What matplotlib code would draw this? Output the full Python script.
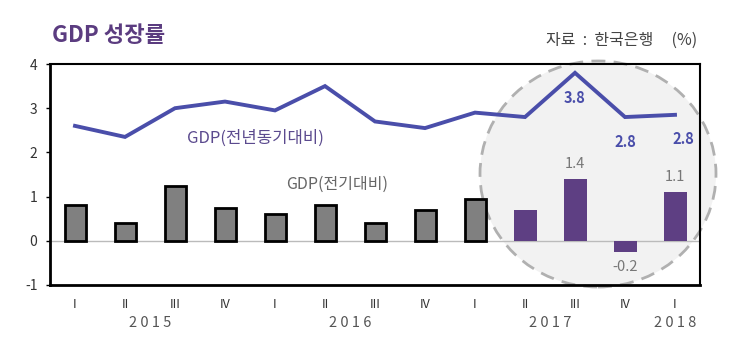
import matplotlib.pyplot as plt
from matplotlib.patches import Ellipse
from matplotlib import transforms

plt.rcParams['font.family'] = ['Noto Sans CJK KR', 'DejaVu Sans']
plt.rcParams['axes.unicode_minus'] = False

# data
quarters = ['I', 'II', 'III', 'IV', 'I', 'II', 'III', 'IV', 'I', 'II', 'III', 'IV', 'I']
years = ['2015', '2016', '2017', '2018']
year_pos = [1.5, 5.5, 9.5, 12]
yoy = [2.6, 2.35, 3.0, 3.15, 2.95, 3.5, 2.7, 2.55, 2.9, 2.8, 3.8, 2.8, 2.85]
qoq = [0.8, 0.4, 1.25, 0.75, 0.6, 0.8, 0.4, 0.7, 0.95, 0.7, 1.4, -0.25, 1.1]
n_gray = 9  # last bars highlighted in purple
yoy_labels = {10: '3.8', 11: '2.8', 12: '2.8'}
qoq_labels = {10: '1.4', 11: '-0.2', 12: '1.1'}

W, H = 740, 350
fig = plt.figure(figsize=(W / 100, H / 100), dpi=100)
ax = fig.add_axes([50 / W, 1 - 285 / H, 650 / W, 221 / H])

x = list(range(len(quarters)))

# highlight circle
circ = Ellipse((598 / W, 1 - 174 / H), 236 / W, 226 / H, transform=fig.transFigure,
               facecolor='#f2f2f2', edgecolor='#b0b0b0', lw=2, ls=(0, (5, 3)),
               zorder=0.5, clip_on=False)
ax.add_patch(circ)

ax.axhline(0, color='#bbbbbb', lw=1, zorder=1)

ax.bar(x[:n_gray], qoq[:n_gray], width=0.42, color='#808080', edgecolor='black',
       lw=2, zorder=2)
ax.bar(x[n_gray:], qoq[n_gray:], width=0.46, color='#5e3f83', zorder=2)
ax.plot(x, yoy, color='#4a4eaa', lw=2.8, zorder=3, solid_joinstyle='miter')

for i, t in yoy_labels.items():
    dx = 6 if i == len(x) - 1 else 0
    ax.annotate(t, (i, yoy[i]), xytext=(dx, -12), textcoords='offset points',
                ha='center', va='top', fontsize=10.5, fontweight='bold', color='#4a4eaa')
for i, t in qoq_labels.items():
    off = 6 if qoq[i] > 0 else -6
    ax.annotate(t, (i, qoq[i]), xytext=(0, off), textcoords='offset points',
                ha='center', va='bottom' if off > 0 else 'top', fontsize=10.5, color='#777777')

ax.text(3.6, 2.33, 'GDP(전년동기대비)', ha='center', va='center', fontsize=12,
        color='#5b4a8e')
ax.text(5.25, 1.27, 'GDP(전기대비)', ha='center', va='center', fontsize=11.5,
        color='#666666')

ax.set_xlim(-0.5, 12.5)
ax.set_ylim(-1, 4)
ax.set_yticks([-1, 0, 1, 2, 3, 4])
ax.set_xticks(x)
ax.set_xticklabels(quarters)
ax.tick_params(axis='x', length=0, pad=9, labelsize=9, labelcolor='#333333')
ax.tick_params(axis='y', length=3, width=1, pad=6, labelsize=10, labelcolor='#333333')

for s in ['left', 'bottom']:
    ax.spines[s].set_linewidth(2)
for s in ['top', 'right']:
    ax.spines[s].set_linewidth(1.5)

trans = transforms.blended_transform_factory(ax.transData, fig.transFigure)
for yr, p in zip(years, year_pos):
    ax.text(p, 1 - 323 / H, ' '.join(yr), ha='center', va='center', fontsize=10.5,
            color='#555555', transform=trans, clip_on=False)

fig.text(52 / W, 1 - 35 / H, 'GDP 성장률', ha='left', va='center', fontsize=16,
         fontweight='bold', color='#5b3c80')
fig.text(697 / W, 1 - 40 / H, '자료  :  한국은행     (%)', ha='right', va='center',
         fontsize=11.5, color='#444444')

fig.savefig('out.png', dpi=100)
